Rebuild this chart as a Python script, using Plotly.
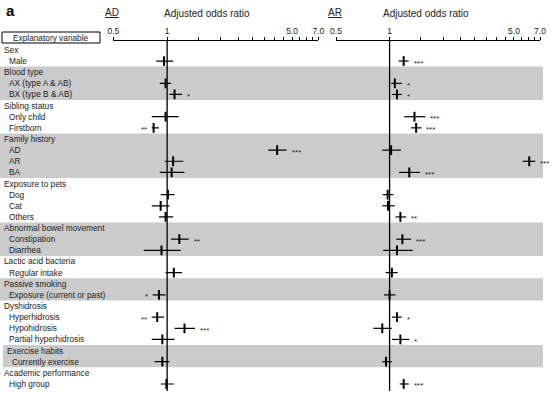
import math
import plotly.graph_objects as go

# ---------------- data ----------------
groups = ["Sex", "Blood type", "Sibling status", "Family history", "Exposure to pets",
          "Abnormal bowel movement", "Lactic acid bacteria", "Passive smoking",
          "Dyshidrosis", "Exercise habits", "Academic performance"]
group_items = [["Male"], ["AX (type A & AB)", "BX (type B & AB)"], ["Only child", "Firstborn"],
               ["AD", "AR", "BA"], ["Dog", "Cat", "Others"], ["Constipation", "Diarrhea"],
               ["Regular intake"], ["Exposure (current or past)"],
               ["Hyperhidrosis", "Hypohidrosis", "Partial hyperhidrosis"],
               ["Currently exercise"], ["High group"]]
shaded_groups = ["Blood type", "Family history", "Abnormal bowel movement",
                 "Passive smoking", "Exercise habits"]

ad_or = [0.96, 0.98, 1.10, 0.98, 0.84, 4.12, 1.08, 1.06, 1.01, 0.92, 0.98, 1.17, 0.93,
         1.09, 0.90, 0.88, 1.25, 0.94, 0.94, 0.99]
ad_lo = [0.87, 0.91, 1.03, 0.82, 0.82, 3.67, 0.97, 0.91, 0.92, 0.82, 0.90, 1.05, 0.74,
         0.98, 0.83, 0.82, 1.10, 0.82, 0.85, 0.92]
ad_hi = [1.08, 1.05, 1.21, 1.16, 0.90, 4.65, 1.23, 1.25, 1.10, 1.03, 1.08, 1.32, 1.19,
         1.21, 0.98, 0.96, 1.43, 1.10, 1.03, 1.09]
ad_sig = ["", "", "*", "", "**", "***", "", "", "", "", "", "**", "", "", "*", "**",
          "***", "", "", ""]

ar_or = [1.20, 1.07, 1.10, 1.38, 1.41, 1.02, 6.09, 1.29, 0.975, 0.98, 1.15, 1.18, 1.10,
         1.03, 1.00, 1.10, 0.91, 1.15, 0.955, 1.20]
ar_lo = [1.125, 1.02, 1.03, 1.21, 1.32, 0.91, 5.59, 1.13, 0.915, 0.91, 1.08, 1.09, 0.92,
         0.95, 0.93, 1.03, 0.81, 1.03, 0.91, 1.14]
ar_hi = [1.28, 1.17, 1.17, 1.59, 1.51, 1.16, 6.58, 1.48, 1.05, 1.07, 1.24, 1.32, 1.35,
         1.11, 1.08, 1.17, 1.03, 1.29, 1.03, 1.28]
ar_sig = ["***", "*", "*", "***", "***", "", "***", "***", "", "", "**", "***", "", "",
          "", "*", "", "*", "", "***"]

tick_vals = [0.5, 1, 1.5, 2, 2.5, 3, 3.5, 4, 4.5, 5, 5.5, 6, 6.5, 7]
tick_text = ["0.5", "1", "", "", "", "", "", "", "", "5.0", "", "", "", "7.0"]

# ---------------- layout helpers ----------------
W, H = 552, 393
FONT = "Liberation Sans, Arial, sans-serif"
TXT = "#222222"


def px(x):
    return x / W


def py(y):
    return 1 - y / H


rows = []
item_rows = []
for g, items in zip(groups, group_items):
    rows.append((g, "h", g))
    for it in items:
        item_rows.append(len(rows))
        rows.append((it, "i", g))

n_rows = len(rows)
y_top, y_bot = -0.8, n_rows - 1 + 0.63

fig = go.Figure()

panels = [
    ("x", ad_or, ad_lo, ad_hi, ad_sig),
    ("x2", ar_or, ar_lo, ar_hi, ar_sig),
]

annotations = []
for xref, o, lo, hi, sig in panels:
    fig.add_trace(go.Scatter(x=[1, 1], y=[y_top, y_bot], mode="lines",
                             line=dict(color="black", width=1.3),
                             xaxis=xref, yaxis="y", hoverinfo="skip", showlegend=False))
    cx, cy = [], []
    for r, l, h in zip(item_rows, lo, hi):
        cx += [l, h, None]
        cy += [r, r, None]
    fig.add_trace(go.Scatter(x=cx, y=cy, mode="lines",
                             line=dict(color="black", width=1.2),
                             xaxis=xref, yaxis="y", showlegend=False))
    fig.add_trace(go.Scatter(x=o, y=item_rows, mode="markers",
                             marker=dict(symbol="line-ns", size=7,
                                         line=dict(color="black", width=2)),
                             xaxis=xref, yaxis="y", showlegend=False))
    for r, v, l, h, s in zip(item_rows, o, lo, hi, sig):
        if not s:
            continue
        if v < 1:
            annotations.append(dict(x=math.log10(l), y=r, xref=xref, yref="y", text=s,
                                    showarrow=False, xanchor="right", yanchor="middle",
                                    xshift=-3, yshift=-2,
                                    font=dict(size=8, color=TXT, family=FONT)))
        else:
            annotations.append(dict(x=math.log10(h), y=r, xref=xref, yref="y", text=s,
                                    showarrow=False, xanchor="left", yanchor="middle",
                                    xshift=3, yshift=-2,
                                    font=dict(size=8, color=TXT, family=FONT)))

shapes = []
for i, (lab, kind, g) in enumerate(rows):
    indent = 2 if kind == "h" else 7
    if g == "Exercise habits":
        indent += 3
    annotations.append(dict(x=px(indent), y=i, xref="paper", yref="y", text=lab,
                            showarrow=False, xanchor="left", yanchor="middle",
                            font=dict(size=8.3, color=TXT, family=FONT)))

for g in shaded_groups:
    idx = [i for i, r in enumerate(rows) if r[2] == g]
    x0 = 3 if g == "Exercise habits" else 0
    shapes.append(dict(type="rect", xref="paper", yref="y", x0=px(x0), x1=px(543),
                       y0=min(idx) - 0.5, y1=max(idx) + 0.5, fillcolor="#cbcbcb",
                       line=dict(width=0), layer="below"))

shapes.append(dict(type="rect", xref="paper", yref="paper", x0=px(2), x1=px(100),
                   y0=py(43), y1=py(32), line=dict(color="black", width=1),
                   fillcolor="white"))


def head(x, y, text, size=10, color=TXT):
    return dict(x=px(x), y=py(y), xref="paper", yref="paper", text=text, showarrow=False,
                xanchor="center", yanchor="middle", font=dict(size=size, color=color, family=FONT))


annotations += [
    head(51, 37.5, "Explanatory variable", size=8.3),
    head(10, 11, "<b>a</b>", size=15, color="black"),
    head(112, 12, "<u>AD</u>"),
    head(207, 13, "Adjusted odds ratio"),
    head(335, 12, "<u>AR</u>"),
    head(426, 13, "Adjusted odds ratio"),
]

xaxis_common = dict(type="log", range=[math.log10(0.5), math.log10(7)], side="top",
                    anchor="y", tickmode="array", tickvals=tick_vals, ticktext=tick_text,
                    ticks="outside", ticklen=3, tickwidth=1, tickcolor="black",
                    showline=True, linecolor="black", linewidth=1, showgrid=False,
                    zeroline=False, fixedrange=True, automargin=False,
                    tickfont=dict(size=8.5, color=TXT, family=FONT))

fig.update_layout(
    width=W, height=H,
    margin=dict(l=0, r=0, t=0, b=0, pad=0, autoexpand=False),
    paper_bgcolor="white", plot_bgcolor="rgba(0,0,0,0)",
    xaxis=dict(domain=[px(113.3), px(318.3)], **xaxis_common),
    xaxis2=dict(domain=[px(336), px(540)], **xaxis_common),
    yaxis=dict(domain=[py(391), py(41)], range=[y_bot, y_top], visible=False,
               showgrid=False, zeroline=False, fixedrange=True, automargin=False),
    shapes=shapes,
    annotations=annotations,
    showlegend=False,
)

fig.write_html("out.html", config={"displayModeBar": False},
               post_script="document.body.style.margin='0px';")
